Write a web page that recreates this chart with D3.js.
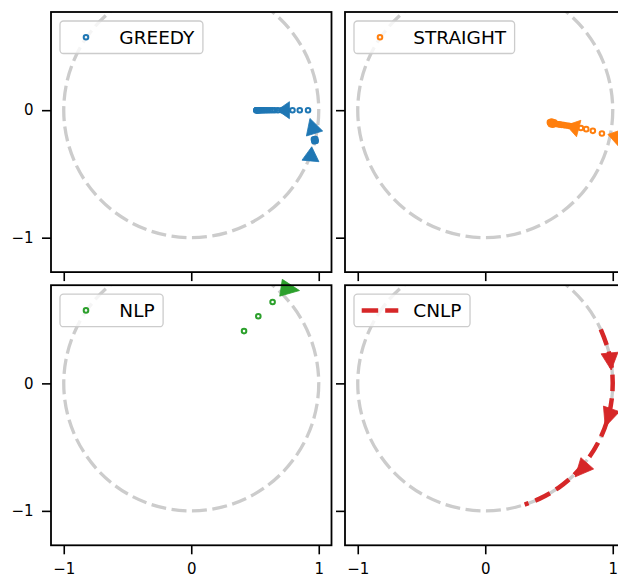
<!DOCTYPE html>
<html><head><meta charset="utf-8">
<script src="https://cdn.jsdelivr.net/npm/d3@7"></script>
<style>
body{margin:0;background:#fff}
svg{display:block;font-family:"DejaVu Sans",sans-serif}
</style>
</head><body>
<svg id="chart" width="618" height="578"></svg>
<script>
// ---------- data ----------
const xTicks = [-1, 0, 1];
const yTicks = [-1, 0];
const xDomain = [-1.1, 1.1];
const yDomain = [-1.27, 0.77];
const unitRadius = 1;

const greedyX = [0.916, 0.851, 0.794, 0.750, 0.710, 0.680, 0.655, 0.635, 0.617, 0.601, 0.587, 0.575, 0.564, 0.555, 0.547, 0.540, 0.534, 0.529, 0.525, 0.521, 0.518, 0.515, 0.513, 0.511, 0.510,
                 0.962, 0.969, 0.976, 0.965, 0.973];
const greedyY = [0, 0, 0, 0, 0, 0, 0, 0, 0, 0, 0, 0, 0, 0, 0, 0, 0, 0, 0, 0, 0, 0, 0, 0, 0,
                 -0.228, -0.235, -0.242, -0.244, -0.226];
const greedyArrows = [ // [baseX, baseY, tipX, tipY]
  [0.770, 0.000, 0.675, 0.000],
  [0.967, -0.183, 0.931, -0.065],
  [0.935, -0.398, 0.945, -0.287]
];

const straightX = [0.915, 0.844, 0.792, 0.750, 0.710, 0.680, 0.655, 0.635, 0.617, 0.601, 0.587, 0.575, 0.564, 0.555, 0.547, 0.540, 0.533, 0.527, 0.522, 0.517, 0.513, 0.510, 0.507, 0.520, 0.530, 0.515, 0.540];
const straightY = [-0.183, -0.162, -0.149, -0.140, -0.132, -0.127, -0.123, -0.120, -0.117, -0.115, -0.113, -0.111, -0.109, -0.108, -0.106, -0.105, -0.104, -0.103, -0.102, -0.100, -0.099, -0.098, -0.096, -0.090, -0.114, -0.110, -0.096];
const straightArrows = [
  [0.733, -0.144, 0.635, -0.118],
  [1.060, -0.216, 0.962, -0.190]
];

const nlpX = [0.414, 0.526, 0.638];
const nlpY = [0.410, 0.526, 0.638];
const nlpArrows = [
  [0.704, 0.750, 0.849, 0.728]
];

const cnlpX = [0.906, 0.966, 0.996, 0.996, 0.966, 0.906, 0.819, 0.707, 0.574, 0.423, 0.309];
const cnlpY = [0.423, 0.259, 0.087, -0.087, -0.259, -0.423, -0.574, -0.707, -0.819, -0.906, -0.951];
const cnlpArrows = [
  [0.975, 0.238, 0.988, 0.105],
  [0.990, -0.200, 0.941, -0.340],
  [0.800, -0.627, 0.706, -0.733]
];

const panelNames = ["GREEDY", "STRAIGHT", "NLP", "CNLP"];
const panelColors = ["#1f77b4", "#ff7f0e", "#2ca02c", "#d62728"];

// ---------- layout ----------
const colLeft = [51, 345];
const rowTop = [12, 285.2];
const unitPx = 127.5;
const pw = (xDomain[1] - xDomain[0]) * unitPx;
const ph = (yDomain[1] - yDomain[0]) * unitPx;

const svg = d3.select("#chart");
const fmt = d => d < 0 ? "\u2212" + Math.abs(d) : String(d);

const panels = [
  {name: panelNames[0], color: panelColors[0], col: 0, row: 0, kind: "markers", xs: greedyX, ys: greedyY, arrows: greedyArrows},
  {name: panelNames[1], color: panelColors[1], col: 1, row: 0, kind: "markers", xs: straightX, ys: straightY, arrows: straightArrows},
  {name: panelNames[2], color: panelColors[2], col: 0, row: 1, kind: "markers", xs: nlpX, ys: nlpY, arrows: nlpArrows},
  {name: panelNames[3], color: panelColors[3], col: 1, row: 1, kind: "line", xs: cnlpX, ys: cnlpY, arrows: cnlpArrows}
];

const ringR = 2.3, ringW = 2;
const lineW = 4.5, lineDash = "16.5,7";

panels.forEach((p, i) => {
  const left = colLeft[p.col], top = rowTop[p.row];
  const x = d3.scaleLinear().domain(xDomain).range([left, left + pw]);
  const y = d3.scaleLinear().domain(yDomain).range([top + ph, top]);
  const g = svg.append("g");

  const clipId = "clip" + i;
  svg.append("clipPath").attr("id", clipId)
    .append("rect").attr("x", left).attr("y", top).attr("width", pw).attr("height", ph);

  const clipped = g.append("g").attr("clip-path", `url(#${clipId})`);

  // unit circle
  clipped.append("circle")
    .attr("cx", x(0)).attr("cy", y(0)).attr("r", x(unitRadius) - x(0))
    .attr("fill", "none").attr("stroke", "#cccccc").attr("stroke-width", 3.3)
    .attr("stroke-dasharray", "15,5.5");

  const pts = p.xs.map((v, j) => [v, p.ys[j]]);
  if (p.kind === "line") {
    clipped.append("path")
      .attr("d", d3.line().x(d => x(d[0])).y(d => y(d[1])).curve(d3.curveCatmullRom)(pts))
      .attr("fill", "none").attr("stroke", p.color).attr("stroke-width", lineW)
      .attr("stroke-dasharray", lineDash);
  } else {
    clipped.selectAll("circle.pt").data(pts).join("circle").attr("class", "pt")
      .attr("cx", d => x(d[0])).attr("cy", d => y(d[1])).attr("r", ringR)
      .attr("fill", "none").attr("stroke", p.color).attr("stroke-width", ringW);
  }

  // arrow heads (not clipped)
  const hw = 8.5;
  g.selectAll("path.arrow").data(p.arrows).join("path").attr("class", "arrow")
    .attr("d", a => {
      const bx = x(a[0]), by = y(a[1]), tx = x(a[2]), ty = y(a[3]);
      const dx = tx - bx, dy = ty - by, L = Math.hypot(dx, dy);
      const nx = -dy / L, ny = dx / L;
      return `M${tx},${ty}L${bx + nx * hw},${by + ny * hw}L${bx - nx * hw},${by - ny * hw}Z`;
    })
    .attr("fill", p.color).attr("stroke", p.color).attr("stroke-width", 0.8);

  // frame
  g.append("rect").attr("x", left).attr("y", top).attr("width", pw).attr("height", ph)
    .attr("fill", "none").attr("stroke", "#000").attr("stroke-width", 1.8);

  // axes
  const ax = g.append("g").attr("transform", `translate(0,${top + ph})`)
    .call(d3.axisBottom(x).tickValues(xTicks).tickSize(9).tickPadding(9.5)
      .tickFormat(p.row === 1 ? fmt : () => ""));
  const ay = g.append("g").attr("transform", `translate(${left},0)`)
    .call(d3.axisLeft(y).tickValues(yTicks).tickSize(9).tickPadding(8.5)
      .tickFormat(p.col === 0 ? fmt : () => ""));
  [ax, ay].forEach(a => {
    a.select(".domain").remove();
    a.selectAll(".tick line").attr("stroke", "#000").attr("stroke-width", 1.6);
    a.selectAll(".tick text").attr("fill", "#000").attr("font-size", 15)
      .attr("font-family", '"DejaVu Sans", sans-serif');
  });

  // legend
  const lx = left + 9, ly = top + 9, lh = 32.5;
  const lg = g.append("g");
  const box = lg.append("rect").attr("x", lx).attr("y", ly).attr("height", lh).attr("rx", 3.5)
    .attr("fill", "#fff").attr("fill-opacity", 0.8).attr("stroke", "#cccccc").attr("stroke-width", 1.3);
  if (p.kind === "line") {
    lg.append("line").attr("x1", lx + 7.7).attr("x2", lx + 44.3)
      .attr("y1", ly + 16.2).attr("y2", ly + 16.2)
      .attr("stroke", p.color).attr("stroke-width", lineW).attr("stroke-dasharray", lineDash);
  } else {
    lg.append("circle").attr("cx", lx + 26).attr("cy", ly + 16.2).attr("r", ringR)
      .attr("fill", "none").attr("stroke", p.color).attr("stroke-width", ringW);
  }
  const t = lg.append("text").attr("x", lx + 59.3).attr("y", ly + 22.8)
    .attr("font-size", 18.5).attr("fill", "#000").text(p.name);
  const tw = t.node().getComputedTextLength();
  box.attr("width", 59.3 + tw + 8.5);
});
</script>
</body></html>
